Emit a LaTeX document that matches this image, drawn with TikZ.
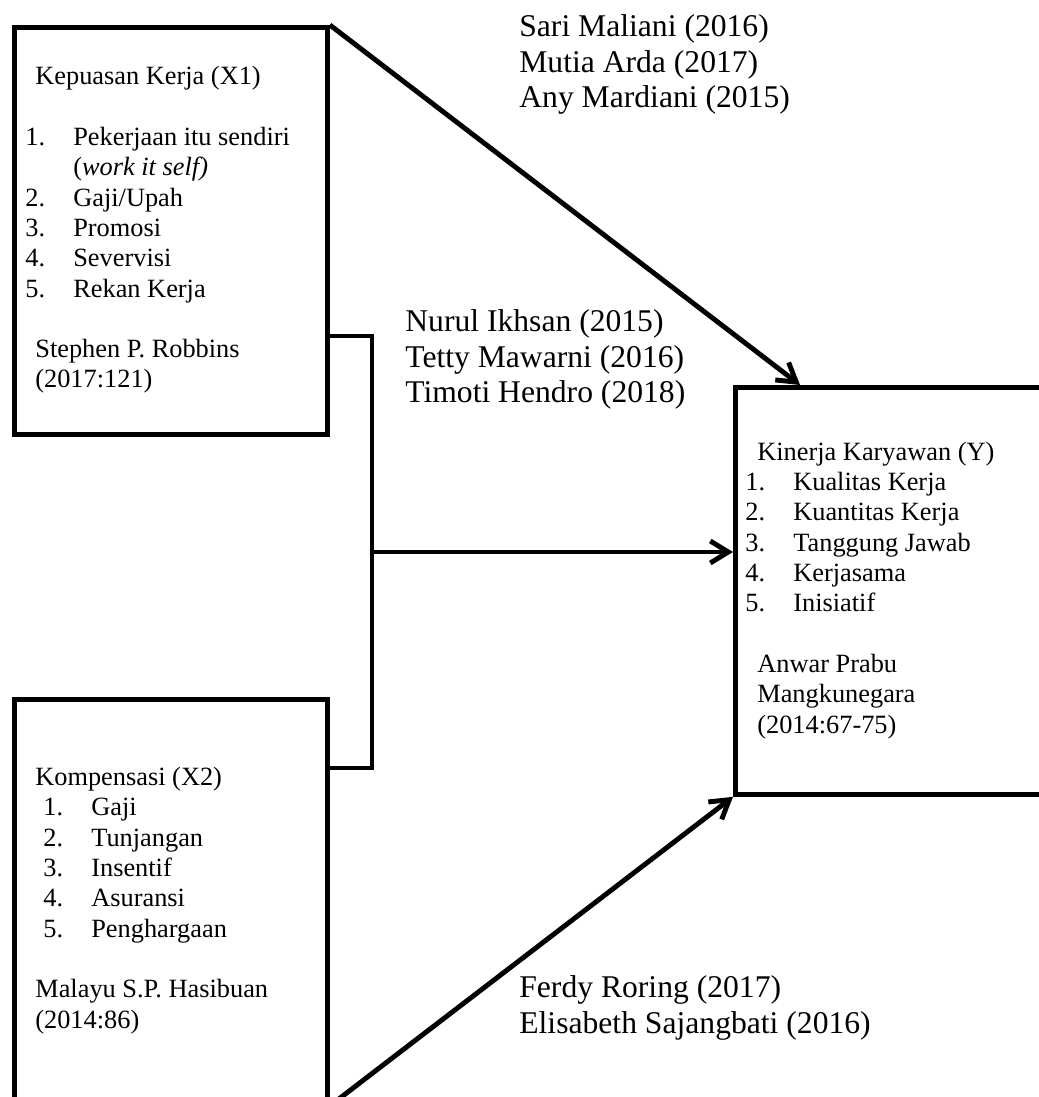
\documentclass[tikz,border=0pt]{standalone}
\usepackage{fontspec}
\setmainfont{Liberation Serif}
\usepackage{tikz}
\usetikzlibrary{arrows.meta}
\usetikzlibrary{calc}
\tikzset{
  box/.style = {draw, line width=2.8pt, rectangle, inner sep=0pt, anchor=north west},
  boxtext/.style = {anchor=base west, inner sep=0pt, align=left, font=\fontsize{15}{17.25}\selectfont},
  cite/.style = {anchor=base west, inner sep=0pt, align=left, font=\fontsize{18}{20.3}\selectfont},
  link/.style = {line width=2.8pt},
  arr/.style = {line width=2.8pt, -{Straight Barb[length=0.36cm, width=0.44cm, line width=2.8pt]}}
}
\newcommand{\itm}[1]{\makebox[0.96cm][l]{#1}}

\begin{document}
\begin{tikzpicture} [x=0.02cm, y=-0.02cm]
\useasboundingbox (0,0) rectangle (1038,1097);

\node[box, minimum width=6.26cm, minimum height=8.14cm] (x1) at (12,25) {};
\node[box, minimum width=6.26cm, minimum height=8.08cm] (x2) at (12,697) {};
\node[box, minimum width=6.54cm, minimum height=8.14cm] (y) at (733,385) {};

\node[boxtext] (x1txt) at (25,388) {\hspace*{0.2cm}Kepuasan Kerja (X1)\\[0.606cm]
\itm{1.}Pekerjaan itu sendiri\\
\itm{}(\textit{work it self)}\\
\itm{2.}Gaji/Upah\\
\itm{3.}Promosi\\
\itm{4.}Severvisi\\
\itm{5.}Rekan Kerja\\[0.606cm]
\hspace*{0.2cm}Stephen P. Robbins\\
\hspace*{0.2cm}(2017:121)};

\node[boxtext] (x2txt) at (35,1028) {Kompensasi (X2)\\
\hspace*{0.16cm}\itm{1.}Gaji\\
\hspace*{0.16cm}\itm{2.}Tunjangan\\
\hspace*{0.16cm}\itm{3.}Insentif\\
\hspace*{0.16cm}\itm{4.}Asuransi\\
\hspace*{0.16cm}\itm{5.}Penghargaan\\[0.606cm]
Malayu S.P. Hasibuan\\
(2014:86)};

\node[boxtext] (ytxt) at (745,733) {\hspace*{0.24cm}Kinerja Karyawan (Y)\\
\itm{1.}Kualitas Kerja\\
\itm{2.}Kuantitas Kerja\\
\itm{3.}Tanggung Jawab\\
\itm{4.}Kerjasama\\
\itm{5.}Inisiatif\\[0.606cm]
\hspace*{0.24cm}Anwar Prabu\\
\hspace*{0.24cm}Mangkunegara\\
\hspace*{0.24cm}(2014:67-75)};

\node[cite] (ref1) at (519,108) {Sari Maliani (2016)\\Mutia Arda (2017)\\Any Mardiani (2015)};
\node[cite] (ref2) at (405,403) {Nurul Ikhsan (2015)\\Tetty Mawarni (2016)\\Timoti Hendro (2018)};
\node[cite] (ref3) at (519,1033) {Ferdy Roring (2017)\\Elisabeth Sajangbati (2016)};

\coordinate (b1) at (372,336);
\coordinate (b2) at (372,768);
\coordinate (bm) at (372,552);
\coordinate (yin) at (800,385);

\draw[link] (b1 -| x1.east) -- (b1) -- (b2) -- (b2 -| x2.east);
\draw[arr] (bm) -- (bm -| y.west);
\draw[arr] (x1.north east) -- (yin);
\draw[arr] (x2.south east) -- (y.south west);
\end{tikzpicture}
\end{document}
